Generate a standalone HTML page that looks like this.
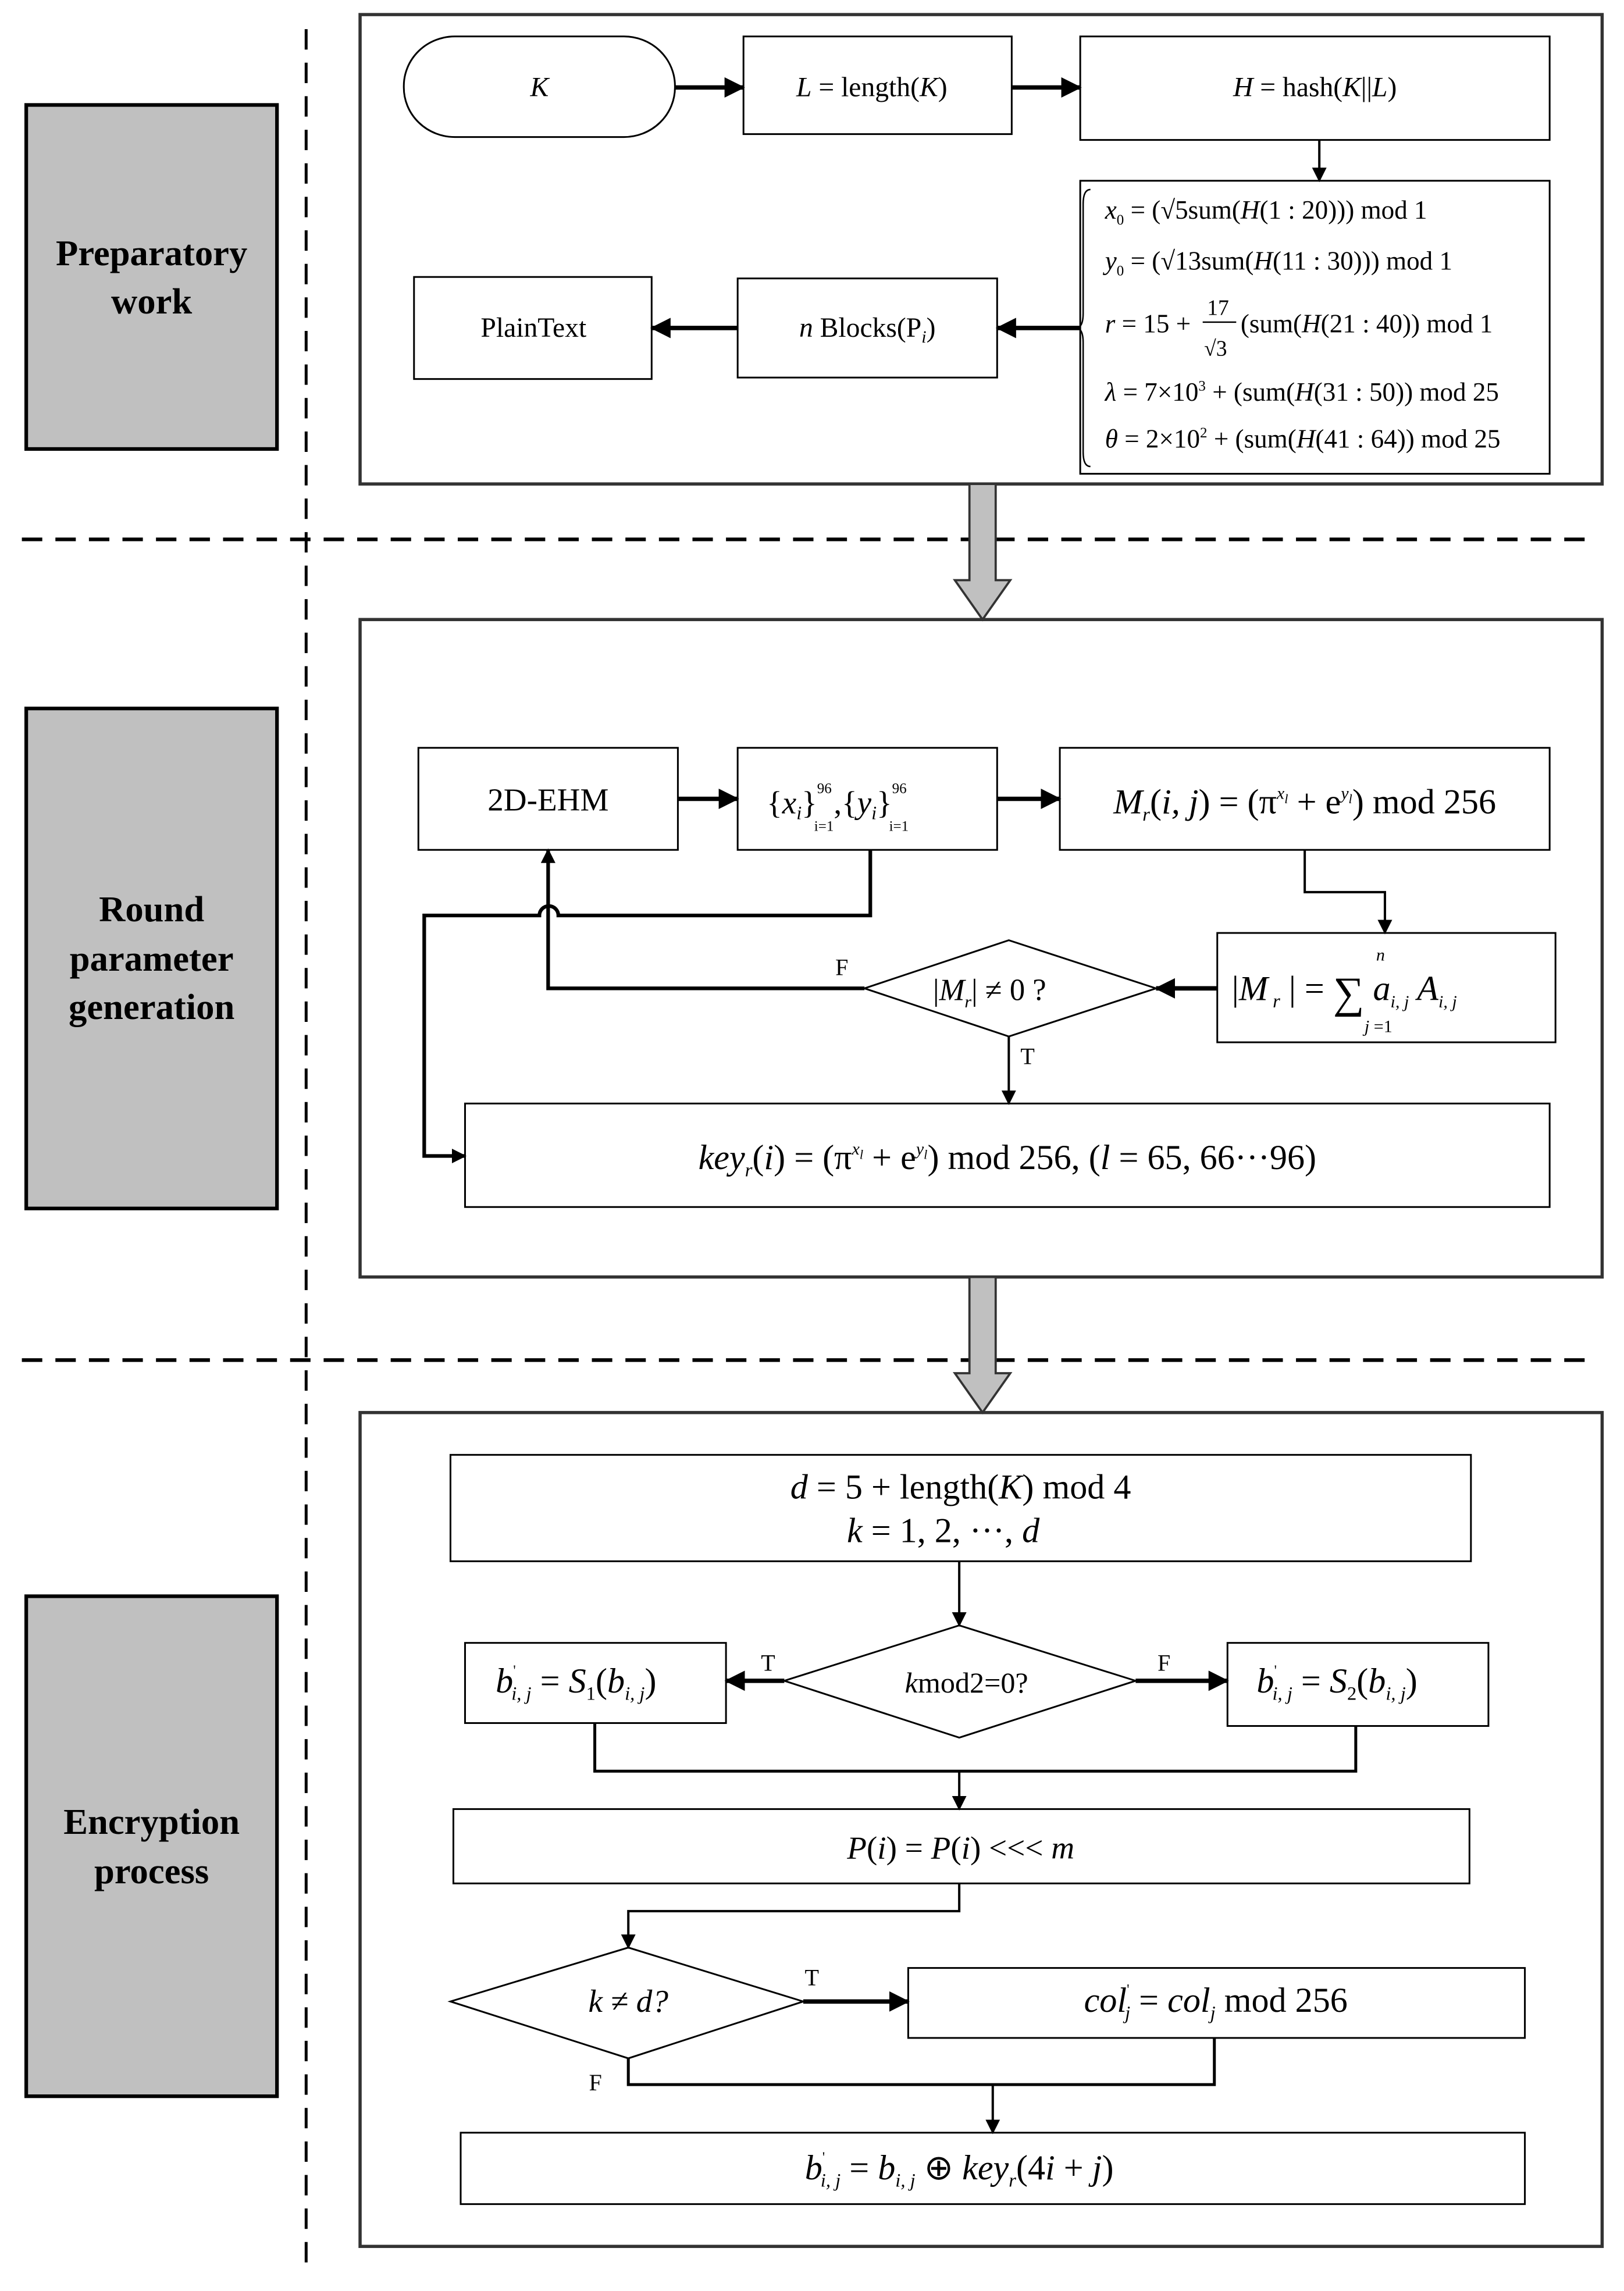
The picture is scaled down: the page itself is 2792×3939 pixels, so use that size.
<!DOCTYPE html>
<html><head><meta charset="utf-8"><style>
html,body{margin:0;padding:0;background:#fff}
svg{display:block}
text{font-family:"Liberation Serif",serif;fill:#000}
.i{font-style:italic}
.b{font-weight:bold;font-size:25px}
</style></head><body>
<svg width="2792" height="3939" viewBox="0 0 1114 1571.6" preserveAspectRatio="none" xmlns="http://www.w3.org/2000/svg">
<defs>
<marker id="a" markerWidth="10" markerHeight="10" refX="9" refY="5" orient="auto" markerUnits="userSpaceOnUse"><path d="M0,0 L10,5 L0,10 z" fill="#000"/></marker>
<marker id="ab" markerWidth="14" markerHeight="14" refX="13" refY="7" orient="auto" markerUnits="userSpaceOnUse"><path d="M0,0 L14,7 L0,14 z" fill="#000"/></marker>
</defs>
<g stroke="#000" stroke-width="2" stroke-dasharray="14,9" fill="none">
<line x1="210" y1="20" x2="210" y2="1560"/>
<line x1="15" y1="370" x2="1095" y2="370" stroke-width="2.5"/>
<line x1="15" y1="933" x2="1095" y2="933" stroke-width="2.5"/>
</g>
<g fill="#c0c0c0" stroke="#000" stroke-width="2.5">
<rect x="18" y="72" width="172" height="236"/>
<rect x="18" y="486" width="172" height="343"/>
<rect x="18" y="1095" width="172" height="343"/>
</g>
<text class="b" x="104" y="182" text-anchor="middle">Preparatory</text>
<text class="b" x="104" y="215" text-anchor="middle">work</text>
<text class="b" x="104" y="632" text-anchor="middle">Round</text>
<text class="b" x="104" y="666" text-anchor="middle">parameter</text>
<text class="b" x="104" y="699" text-anchor="middle">generation</text>
<text class="b" x="104" y="1258" text-anchor="middle">Encryption</text>
<text class="b" x="104" y="1292" text-anchor="middle">process</text>
<g fill="none" stroke="#333" stroke-width="2.2">
<rect x="247" y="10" width="852" height="322"/>
<rect x="247" y="425" width="852" height="451"/>
<rect x="247" y="969" width="852" height="572"/>
</g>
<g fill="#c0c0c0" stroke="#333" stroke-width="1.5">
<path d="M665,332 L683,332 L683,398 L693,398 L674,425 L655,398 L665,398 z"/>
<path d="M665,876 L683,876 L683,942 L693,942 L674,969 L655,942 L665,942 z"/>
</g>
<g fill="#fff" stroke="#000" stroke-width="1.2">
<rect x="277" y="25" width="186" height="69" rx="35" ry="34"/>
<rect x="510" y="25" width="184" height="67"/>
<rect x="741" y="25" width="322" height="71"/>
<rect x="741" y="124" width="322" height="201"/>
<rect x="506" y="191" width="178" height="68"/>
<rect x="284" y="190" width="163" height="70"/>
<rect x="287" y="513" width="178" height="70"/>
<rect x="506" y="513" width="178" height="70"/>
<rect x="727" y="513" width="336" height="70"/>
<rect x="835" y="640" width="232" height="75"/>
<path d="M593,678 L692,645 L793,678 L692,711 z"/>
<rect x="319" y="757" width="744" height="71"/>
<rect x="309" y="998" width="700" height="73"/>
<path d="M538,1153 L658,1115 L779,1153 L658,1192 z"/>
<rect x="319" y="1127" width="179" height="55"/>
<rect x="842" y="1127" width="179" height="57"/>
<rect x="311" y="1241" width="697" height="51"/>
<path d="M309,1373 L431,1336 L551,1373 L431,1412 z"/>
<rect x="623" y="1350" width="423" height="48"/>
<rect x="316" y="1463" width="730" height="49"/>
</g>
<path d="M748,130 Q743,130 743,140 L743,215 Q743,225 738,225 Q743,225 743,235 L743,310 Q743,320 748,320" stroke="#000" stroke-width="1" fill="none"/>
<g stroke="#000" stroke-width="3" fill="none" marker-end="url(#ab)">
<line x1="463" y1="60" x2="510" y2="60"/>
<line x1="694" y1="60" x2="741" y2="60"/>
<line x1="741" y1="225" x2="684" y2="225"/>
<line x1="506" y1="225" x2="447" y2="225"/>
<line x1="465" y1="548" x2="506" y2="548"/>
<line x1="684" y1="548" x2="727" y2="548"/>
<line x1="835" y1="678" x2="793" y2="678"/>
<line x1="538" y1="1153" x2="498" y2="1153"/>
<line x1="779" y1="1153" x2="842" y2="1153"/>
<line x1="551" y1="1373" x2="623" y2="1373"/>
</g>
<g stroke="#000" stroke-width="1.6" fill="none" marker-end="url(#a)">
<line x1="905" y1="96" x2="905" y2="124"/>
<polyline points="895,583 895,612 950,612 950,640"/>
<polyline points="593,678 376,678 376,583" stroke-width="2.5"/>
<line x1="692" y1="711" x2="692" y2="757"/>
<path d="M597,583 L597,628 L383,628 A6.5,6.5 0 0 0 370,628 L291,628 L291,793 L319,793" stroke-width="2.5"/>
<line x1="658" y1="1071" x2="658" y2="1115"/>
<line x1="658" y1="1215" x2="658" y2="1241"/>
<polyline points="658,1292 658,1311 431,1311 431,1336"/>
<line x1="681" y1="1430" x2="681" y2="1463"/>
</g>
<g stroke="#000" stroke-width="2" fill="none">
<polyline points="408,1182 408,1215 930,1215 930,1184"/>
<polyline points="431,1412 431,1430 833,1430 833,1398"/>
</g>
<g font-size="19">
<text class="i" x="370" y="66" text-anchor="middle">K</text>
<text x="598" y="66" text-anchor="middle"><tspan class="i">L</tspan> = length(<tspan class="i">K</tspan>)</text>
<text x="902" y="66" text-anchor="middle"><tspan class="i">H</tspan> = hash(<tspan class="i">K</tspan>||<tspan class="i">L</tspan>)</text>
<text x="366" y="231" text-anchor="middle">PlainText</text>
<text x="595" y="231" text-anchor="middle"><tspan class="i">n</tspan> Blocks(P<tspan class="i" font-size="12" dy="4">i</tspan><tspan dy="-4">)</tspan></text>
</g>
<g font-size="18">
<text x="758" y="150"><tspan class="i">x</tspan><tspan font-size="10" dy="4">0</tspan><tspan dy="-4"> = (√5sum(</tspan><tspan class="i">H</tspan>(1 : 20))) mod 1</text>
<text x="758" y="185"><tspan class="i">y</tspan><tspan font-size="10" dy="4">0</tspan><tspan dy="-4"> = (√13sum(</tspan><tspan class="i">H</tspan>(11 : 30))) mod 1</text>
<text x="758" y="228"><tspan class="i">r</tspan> = 15 + </text>
<text x="828" y="216" font-size="15">17</text>
<line x1="825" y1="221" x2="848" y2="221" stroke="#000"/>
<text x="826" y="244" font-size="15">√3</text>
<text x="851" y="228">(sum(<tspan class="i">H</tspan>(21 : 40)) mod 1</text>
<text x="758" y="275"><tspan class="i">λ</tspan> = 7×10<tspan font-size="10" dy="-7">3</tspan><tspan dy="7"> + (sum(</tspan><tspan class="i">H</tspan>(31 : 50)) mod 25</text>
<text x="758" y="307"><tspan class="i">θ</tspan> = 2×10<tspan font-size="10" dy="-7">2</tspan><tspan dy="7"> + (sum(</tspan><tspan class="i">H</tspan>(41 : 64)) mod 25</text>
</g>
<g font-size="22">
<text x="376" y="556" text-anchor="middle">2D-EHM</text>
<text x="526" y="558">{<tspan class="i">x</tspan><tspan class="i" font-size="13" dy="4">i</tspan><tspan dy="-4">}</tspan><tspan font-size="10" dy="-14">96</tspan><tspan font-size="10" dx="-12" dy="26">i=1</tspan><tspan dy="-12">,{</tspan><tspan class="i">y</tspan><tspan class="i" font-size="13" dy="4">i</tspan><tspan dy="-4">}</tspan><tspan font-size="10" dy="-14">96</tspan><tspan font-size="10" dx="-12" dy="26">i=1</tspan></text>
<text x="895" y="558" text-anchor="middle" font-size="24"><tspan class="i">M</tspan><tspan class="i" font-size="13" dy="5">r</tspan><tspan dy="-5">(</tspan><tspan class="i">i, j</tspan>) = (π<tspan class="i" font-size="12" dy="-10">x</tspan><tspan class="i" font-size="9" dy="3">l</tspan><tspan dy="7"> + e</tspan><tspan class="i" font-size="12" dy="-10">y</tspan><tspan class="i" font-size="9" dy="3">l</tspan><tspan dy="7">) mod 256</tspan></text>
<text x="845" y="686" font-size="24">|<tspan class="i">M</tspan><tspan class="i" font-size="13" dy="5"> r</tspan><tspan dy="-5"> | = </tspan><tspan font-size="30" dy="5">∑</tspan><tspan class="i" dy="-5"> a</tspan><tspan class="i" font-size="12" dy="5">i, j</tspan><tspan class="i" dy="-5"> A</tspan><tspan class="i" font-size="12" dy="5">i, j</tspan></text>
<text x="944" y="659" class="i" font-size="12">n</text>
<text x="936" y="708" font-size="12"><tspan class="i">j</tspan> =1</text>
<text x="640" y="686" font-size="21">|<tspan class="i">M</tspan><tspan class="i" font-size="12" dy="5">r</tspan><tspan dy="-5">| ≠ 0 ?</tspan></text>
<text x="691" y="802" text-anchor="middle" font-size="24"><tspan class="i">key</tspan><tspan class="i" font-size="13" dy="5">r</tspan><tspan dy="-5">(</tspan><tspan class="i">i</tspan>) = (π<tspan class="i" font-size="12" dy="-10">x</tspan><tspan class="i" font-size="9" dy="3">l</tspan><tspan dy="7"> + e</tspan><tspan class="i" font-size="12" dy="-10">y</tspan><tspan class="i" font-size="9" dy="3">l</tspan><tspan dy="7">) mod 256, (</tspan><tspan class="i">l</tspan> = 65, 66···96)</text>
</g>
<g font-size="16">
<text x="573" y="669">F</text>
<text x="700" y="730">T</text>
<text x="522" y="1146">T</text>
<text x="794" y="1146">F</text>
<text x="552" y="1362">T</text>
<text x="404" y="1434">F</text>
</g>
<g font-size="24">
<text x="659" y="1028" text-anchor="middle"><tspan class="i">d</tspan> = 5 + length(<tspan class="i">K</tspan>) mod 4</text>
<text x="647" y="1058" text-anchor="middle"><tspan class="i">k</tspan> = 1, 2, ···, <tspan class="i">d</tspan></text>
<text x="663" y="1161" text-anchor="middle" font-size="20"><tspan class="i">k</tspan>mod2=0?</text>
<text x="340" y="1161"><tspan class="i">b</tspan><tspan font-size="10" dy="-12">'</tspan><tspan class="i" font-size="13" dx="-3" dy="17">i, j</tspan><tspan dy="-5"> = </tspan><tspan class="i">S</tspan><tspan font-size="13" dy="5">1</tspan><tspan dy="-5">(</tspan><tspan class="i">b</tspan><tspan class="i" font-size="13" dy="5">i, j</tspan><tspan dy="-5">)</tspan></text>
<text x="862" y="1161"><tspan class="i">b</tspan><tspan font-size="10" dy="-12">'</tspan><tspan class="i" font-size="13" dx="-3" dy="17">i, j</tspan><tspan dy="-5"> = </tspan><tspan class="i">S</tspan><tspan font-size="13" dy="5">2</tspan><tspan dy="-5">(</tspan><tspan class="i">b</tspan><tspan class="i" font-size="13" dy="5">i, j</tspan><tspan dy="-5">)</tspan></text>
<text x="659" y="1275" text-anchor="middle" font-size="22"><tspan class="i">P</tspan>(<tspan class="i">i</tspan>) = <tspan class="i">P</tspan>(<tspan class="i">i</tspan>) &lt;&lt;&lt; <tspan class="i">m</tspan></text>
<text x="431" y="1380" text-anchor="middle" font-size="22" class="i">k ≠ d?</text>
<text x="834" y="1380" text-anchor="middle"><tspan class="i">col</tspan><tspan font-size="10" dy="-12">'</tspan><tspan class="i" font-size="13" dx="-3" dy="17">j</tspan><tspan dy="-5"> = </tspan><tspan class="i">col</tspan><tspan class="i" font-size="13" dy="5">j</tspan><tspan dy="-5"> mod 256</tspan></text>
<text x="658" y="1495" text-anchor="middle"><tspan class="i">b</tspan><tspan font-size="10" dy="-12">'</tspan><tspan class="i" font-size="13" dx="-3" dy="17">i, j</tspan><tspan dy="-5"> = </tspan><tspan class="i">b</tspan><tspan class="i" font-size="13" dy="5">i, j</tspan><tspan dy="-5"> ⊕ </tspan><tspan class="i">key</tspan><tspan class="i" font-size="13" dy="5">r</tspan><tspan dy="-5">(4</tspan><tspan class="i">i</tspan> + <tspan class="i">j</tspan>)</text>
</g>
</svg>
</body></html>
